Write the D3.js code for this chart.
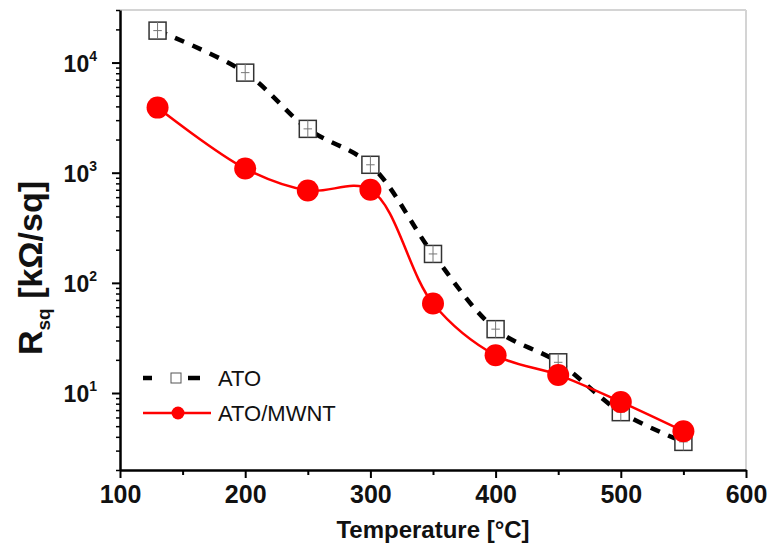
<!DOCTYPE html>
<html>
<head>
<meta charset="utf-8">
<script src="https://cdn.jsdelivr.net/npm/d3@7"></script>
<style>
  body { margin: 0; background: white; }
  text { font-family: "Liberation Sans", Arial, sans-serif; }
</style>
</head>
<body>
<script>
// data
const temps = [130, 200, 250, 300, 350, 400, 450, 500, 550]
const atoValues = [19500, 8100, 2500, 1180, 183, 38, 19, 6.7, 3.6]
const mwntValues = [3900, 1090, 690, 700, 65, 22, 14.6, 8.3, 4.5]
const seriesNames = ['ATO', 'ATO/MWNT']
const xTicks = [100, 200, 300, 400, 500, 600]
const xMinorTicks = [150, 250, 350, 450, 550]
const yTicks = [10, 100, 1000, 10000]

function main(){
    const width = 769, height = 552
    const margin = {top: 10, right: 23, bottom: 82, left: 120}

    let svg = d3.select('body')
        .append('svg')
        .attr('width', width)
        .attr('height', height)
        .attr('style', 'background-color: white')

    let xScale = d3.scaleLinear()
        .domain([100, 600])
        .range([margin.left, width - margin.right])
    let yScale = d3.scaleLog()
        .domain([2, 30000])
        .range([height - margin.bottom, margin.top])

    // minor log ticks 2..9 x 10^k
    let yMinor = []
    for (let k = 0; k <= 4; k++) {
        for (let m = 2; m <= 9; m++) {
            let v = m * Math.pow(10, k)
            if (v >= 2 && v <= 30000) yMinor.push(v)
        }
    }

    // frame: grey top/right
    svg.append('line')
        .attr('x1', margin.left).attr('x2', width - margin.right)
        .attr('y1', margin.top).attr('y2', margin.top)
        .attr('stroke', '#d4d4d4').attr('stroke-width', 2)
    svg.append('line')
        .attr('x1', width - margin.right).attr('x2', width - margin.right)
        .attr('y1', margin.top).attr('y2', height - margin.bottom)
        .attr('stroke', '#d4d4d4').attr('stroke-width', 2)

    // x axis
    let xAxis = svg.append('g')
        .attr('transform', `translate(0,${height - margin.bottom})`)
        .call(d3.axisBottom(xScale).tickValues(xTicks).tickSize(8).tickPadding(7).tickSizeOuter(0))
    svg.append('g')
        .attr('transform', `translate(0,${height - margin.bottom})`)
        .call(d3.axisBottom(xScale).tickValues(xMinorTicks).tickSize(5).tickFormat('').tickSizeOuter(0))
        .call(g => g.select('.domain').remove())
        .selectAll('line').attr('stroke-width', 2)
    xAxis.select('.domain').attr('stroke-width', 2.5)
    xAxis.selectAll('line').attr('stroke-width', 2)
    xAxis.selectAll('text')
        .attr('font-size', '25px')
        .attr('font-weight', 'bold')
        .attr('fill', '#111')

    // y axis
    let yAxis = svg.append('g')
        .attr('transform', `translate(${margin.left},0)`)
        .call(d3.axisLeft(yScale).tickValues(yTicks).tickSize(8).tickFormat('').tickSizeOuter(0))
    svg.append('g')
        .attr('transform', `translate(${margin.left},0)`)
        .call(d3.axisLeft(yScale).tickValues(yMinor).tickSize(4).tickFormat('').tickSizeOuter(0))
        .call(g => g.select('.domain').remove())
        .selectAll('line').attr('stroke-width', 1.5)
    yAxis.select('.domain').attr('stroke-width', 2.5)
    yAxis.selectAll('line').attr('stroke-width', 2)

    let yLab = svg.append('g').selectAll('text')
        .data(yTicks)
        .enter()
        .append('text')
        .attr('x', margin.left - 23)
        .attr('y', d => yScale(d) + 9)
        .attr('text-anchor', 'end')
        .attr('font-size', '23px')
        .attr('font-weight', 'bold')
        .attr('fill', '#111')
    yLab.append('tspan').text('10')
    yLab.append('tspan')
        .attr('dy', -11)
        .attr('font-size', '14px')
        .text(d => Math.round(Math.log10(d)))

    // axis titles
    svg.append('text')
        .attr('x', (xScale(100) + xScale(600)) / 2)
        .attr('y', 538)
        .attr('text-anchor', 'middle')
        .attr('font-size', '24px')
        .attr('font-weight', 'bold')
        .attr('fill', '#111')
        .text('Temperature [\u00B0C]')

    let yTitle = svg.append('text')
        .attr('transform', `translate(42,268) rotate(-90)`)
        .attr('text-anchor', 'middle')
        .attr('font-size', '34px')
        .attr('font-weight', 'bold')
        .attr('fill', '#111')
    yTitle.append('tspan').text('R')
    yTitle.append('tspan').attr('font-size', '19px').attr('dy', 8).text('sq')
    yTitle.append('tspan').attr('dy', -8).text(' [k\u03A9/sq]')

    let pts = (vals) => temps.map((t, i) => [xScale(t), yScale(vals[i])])
    let line = d3.line().curve(d3.curveCatmullRom.alpha(0.5))

    // ATO dashed line
    svg.append('path')
        .attr('d', line(pts(atoValues)))
        .attr('fill', 'none')
        .attr('stroke', 'black')
        .attr('stroke-width', 4.5)
        .attr('stroke-dasharray', '10,9')

    // ATO squares
    let sq = 17
    let squares = svg.append('g').selectAll('g')
        .data(pts(atoValues))
        .enter()
        .append('g')
        .attr('transform', d => `translate(${d[0]},${d[1]})`)
    squares.append('rect')
        .attr('x', -sq / 2).attr('y', -sq / 2)
        .attr('width', sq).attr('height', sq)
        .attr('fill', 'white')
        .attr('stroke', '#333')
        .attr('stroke-width', 1.5)
    squares.append('line')
        .attr('x1', 0).attr('x2', 0).attr('y1', -sq / 2).attr('y2', sq / 2)
        .attr('stroke', '#777').attr('stroke-width', 1)
    squares.append('line')
        .attr('x1', -sq / 4).attr('x2', sq / 4).attr('y1', 0).attr('y2', 0)
        .attr('stroke', '#777').attr('stroke-width', 1)

    // ATO/MWNT red line + circles
    svg.append('path')
        .attr('d', line(pts(mwntValues)))
        .attr('fill', 'none')
        .attr('stroke', '#ff0000')
        .attr('stroke-width', 2.5)
    svg.append('g').selectAll('circle')
        .data(pts(mwntValues))
        .enter()
        .append('circle')
        .attr('cx', d => d[0])
        .attr('cy', d => d[1])
        .attr('r', 11)
        .attr('fill', '#ff0000')

    // legend
    let legY = [378, 413]
    svg.append('line')
        .attr('x1', 143).attr('x2', 152).attr('y1', legY[0]).attr('y2', legY[0])
        .attr('stroke', 'black').attr('stroke-width', 4.5)
    svg.append('line')
        .attr('x1', 188).attr('x2', 200).attr('y1', legY[0]).attr('y2', legY[0])
        .attr('stroke', 'black').attr('stroke-width', 4.5)
    svg.append('rect')
        .attr('x', 171).attr('y', legY[0] - 5).attr('width', 10).attr('height', 10)
        .attr('fill', 'white').attr('stroke', '#555').attr('stroke-width', 1)
    svg.append('line')
        .attr('x1', 143).attr('x2', 211).attr('y1', legY[1]).attr('y2', legY[1])
        .attr('stroke', '#ff0000').attr('stroke-width', 2.5)
    svg.append('circle')
        .attr('cx', 178).attr('cy', legY[1]).attr('r', 6.5)
        .attr('fill', '#ff0000')
    svg.append('g').selectAll('text')
        .data(seriesNames)
        .enter()
        .append('text')
        .attr('x', 218)
        .attr('y', (d, i) => legY[i] + 8)
        .attr('font-size', '22px')
        .attr('fill', '#111')
        .text(d => d)
}

main()
</script>
</body>
</html>
